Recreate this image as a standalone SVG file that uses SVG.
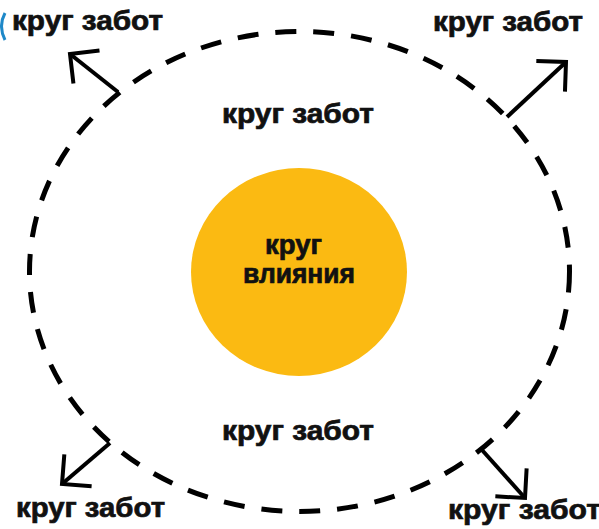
<svg xmlns="http://www.w3.org/2000/svg" width="599" height="529" viewBox="0 0 599 529">
  <style>
    .lbl { font-family: "Liberation Sans", Arial, sans-serif; font-weight: bold; font-size: 27px; fill: #111; stroke: #111; stroke-width: 0.7; }
    .ring { fill: none; stroke: #000; stroke-width: 5; stroke-dasharray: 21 17; }
    .arrow { fill: none; stroke: #000; stroke-width: 4; marker-end: url(#head); }
  </style>
  <defs>
    <marker id="head" markerUnits="userSpaceOnUse" markerWidth="40" markerHeight="50" viewBox="-26 -25 30 50" refX="0" refY="0" orient="auto">
      <path d="M-21,-21 L0,0 L-21,21" fill="none" stroke="#000" stroke-width="4"/>
    </marker>
  </defs>
  <rect width="599" height="529" fill="#fff"/>
  <path d="M5,13 Q-2,26 5,40" fill="none" stroke="#1e88c8" stroke-width="3"/>

  <g id="care-circle">
    <ellipse class="ring" cx="299.5" cy="271.5" rx="270" ry="240"/>
    <text class="lbl" x="222" y="123" textLength="152" lengthAdjust="spacingAndGlyphs">круг забот</text>
    <text class="lbl" x="222" y="440" textLength="152" lengthAdjust="spacingAndGlyphs">круг забот</text>
  </g>

  <g id="influence-circle">
    <ellipse cx="299" cy="272" rx="108" ry="104" fill="#fbba12"/>
    <text class="lbl" x="265" y="254" textLength="57" lengthAdjust="spacingAndGlyphs">круг</text>
    <text class="lbl" x="243" y="283" textLength="112" lengthAdjust="spacingAndGlyphs">влияния</text>
  </g>

  <g id="label-top-left">
    <text class="lbl" x="12" y="30" textLength="151" lengthAdjust="spacingAndGlyphs">круг забот</text>
  </g>
  <g id="label-top-right">
    <text class="lbl" x="433" y="31" textLength="150" lengthAdjust="spacingAndGlyphs">круг забот</text>
  </g>
  <g id="label-bottom-left">
    <text class="lbl" x="16" y="517" textLength="149" lengthAdjust="spacingAndGlyphs">круг забот</text>
  </g>
  <g id="label-bottom-right">
    <text class="lbl" x="448" y="519" textLength="153" lengthAdjust="spacingAndGlyphs">круг забот</text>
  </g>

  <g id="connectors">
    <path class="arrow" d="M118,92 L70,54"/>
    <path class="arrow" d="M507,117 L566,62"/>
    <path class="arrow" d="M110,443 L62,484"/>
    <path class="arrow" d="M482,450 L525,498"/>
  </g>
</svg>
